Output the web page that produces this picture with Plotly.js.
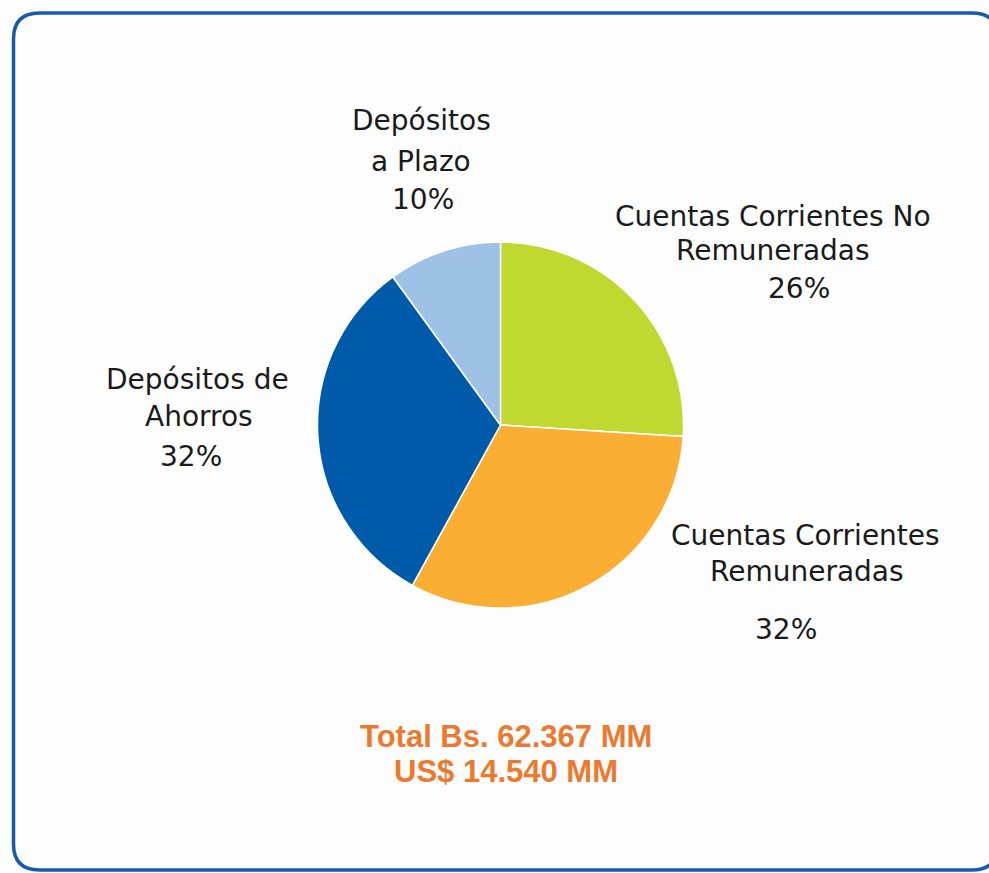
<!DOCTYPE html>
<html>
<head>
<meta charset="utf-8">
<script src="https://cdn.plot.ly/plotly-3.0.1.min.js"></script>
<style>html,body{margin:0;padding:0;background:#fdfdfd;}#chart{width:989px;height:873px;}</style>
</head>
<body>
<div id="chart"></div>
<script>
// ---- data ----
const categories = [
  'Cuentas Corrientes No<br>Remuneradas',
  'Cuentas Corrientes<br>Remuneradas',
  'Depósitos de<br>Ahorros',
  'Depósitos<br>a Plazo'
];
const values = [26, 32, 32, 10];
const sliceColors = ['#C0D82F', '#FAAE34', '#005AAA', '#9DC2E6'];
const totalLines = ['Total Bs. 62.367 MM', 'US$ 14.540 MM'];

// ---- layout helpers (pixel positions of label lines) ----
const W = 989, H = 873;
const px = x => x / W;
const py = y => 1 - y / H;
// per category: [x, y] centers for each name line, then percent line
const nameLinePos = [
  [[773, 216], [773, 251]],
  [[805, 535], [807, 571]],
  [[197, 379], [199, 416]],
  [[421, 121], [421, 161]]
];
const pctPos = [[799, 289], [786, 629], [191, 456], [423, 200]];
const totalPos = [[506, 736], [506, 771]];

const sum = values.reduce((a, b) => a + b, 0);
const labelFont = {family: 'DejaVu Sans', size: 28, color: '#1a1a1a'};
const annotations = [];
categories.forEach((c, i) => {
  c.split('<br>').forEach((line, j) => {
    annotations.push({
      text: line, x: px(nameLinePos[i][j][0]), y: py(nameLinePos[i][j][1]),
      xref: 'paper', yref: 'paper', xanchor: 'center', yanchor: 'middle',
      showarrow: false, font: labelFont
    });
  });
  annotations.push({
    text: Math.round(values[i] / sum * 100) + '%', x: px(pctPos[i][0]), y: py(pctPos[i][1]),
    xref: 'paper', yref: 'paper', xanchor: 'center', yanchor: 'middle',
    showarrow: false, font: labelFont
  });
});
totalLines.forEach((t, j) => {
  annotations.push({
    text: '<b>' + t + '</b>', x: px(totalPos[j][0]), y: py(totalPos[j][1]),
    xref: 'paper', yref: 'paper', xanchor: 'center', yanchor: 'middle',
    showarrow: false, font: {family: 'Liberation Sans', size: 31, color: '#EC7A2E'}
  });
});

// rounded frame path in paper coords
const fL = 13.5, fT = 13, fR = 998, fB = 870, r = 26;
const P = (x, y) => px(x) + ',' + py(y);
const framePath = 'M' + P(fL + r, fT) + ' L' + P(fR - r, fT) + ' Q' + P(fR, fT) + ' ' + P(fR, fT + r) +
  ' L' + P(fR, fB - r) + ' Q' + P(fR, fB) + ' ' + P(fR - r, fB) +
  ' L' + P(fL + r, fB) + ' Q' + P(fL, fB) + ' ' + P(fL, fB - r) +
  ' L' + P(fL, fT + r) + ' Q' + P(fL, fT) + ' ' + P(fL + r, fT) + ' Z';

const cx = 500.5, cy = 425, R = 183;
const trace = {
  type: 'pie',
  labels: categories,
  values: values,
  sort: false,
  direction: 'clockwise',
  rotation: 0,
  textinfo: 'none',
  hoverinfo: 'label+percent',
  marker: {colors: sliceColors, line: {color: '#ffffff', width: 1.5}},
  domain: {x: [px(cx - R), px(cx + R)], y: [py(cy + R), py(cy - R)]},
  showlegend: false
};

const layout = {
  width: W, height: H,
  margin: {l: 0, r: 0, t: 0, b: 0},
  paper_bgcolor: '#fdfdfd',
  showlegend: false,
  annotations: annotations,
  shapes: [{type: 'path', xref: 'paper', yref: 'paper', path: framePath,
            line: {color: '#175AAD', width: 3.5}, fillcolor: 'rgba(0,0,0,0)'}]
};

Plotly.newPlot('chart', [trace], layout, {displayModeBar: false, staticPlot: true});
</script>
</body>
</html>
